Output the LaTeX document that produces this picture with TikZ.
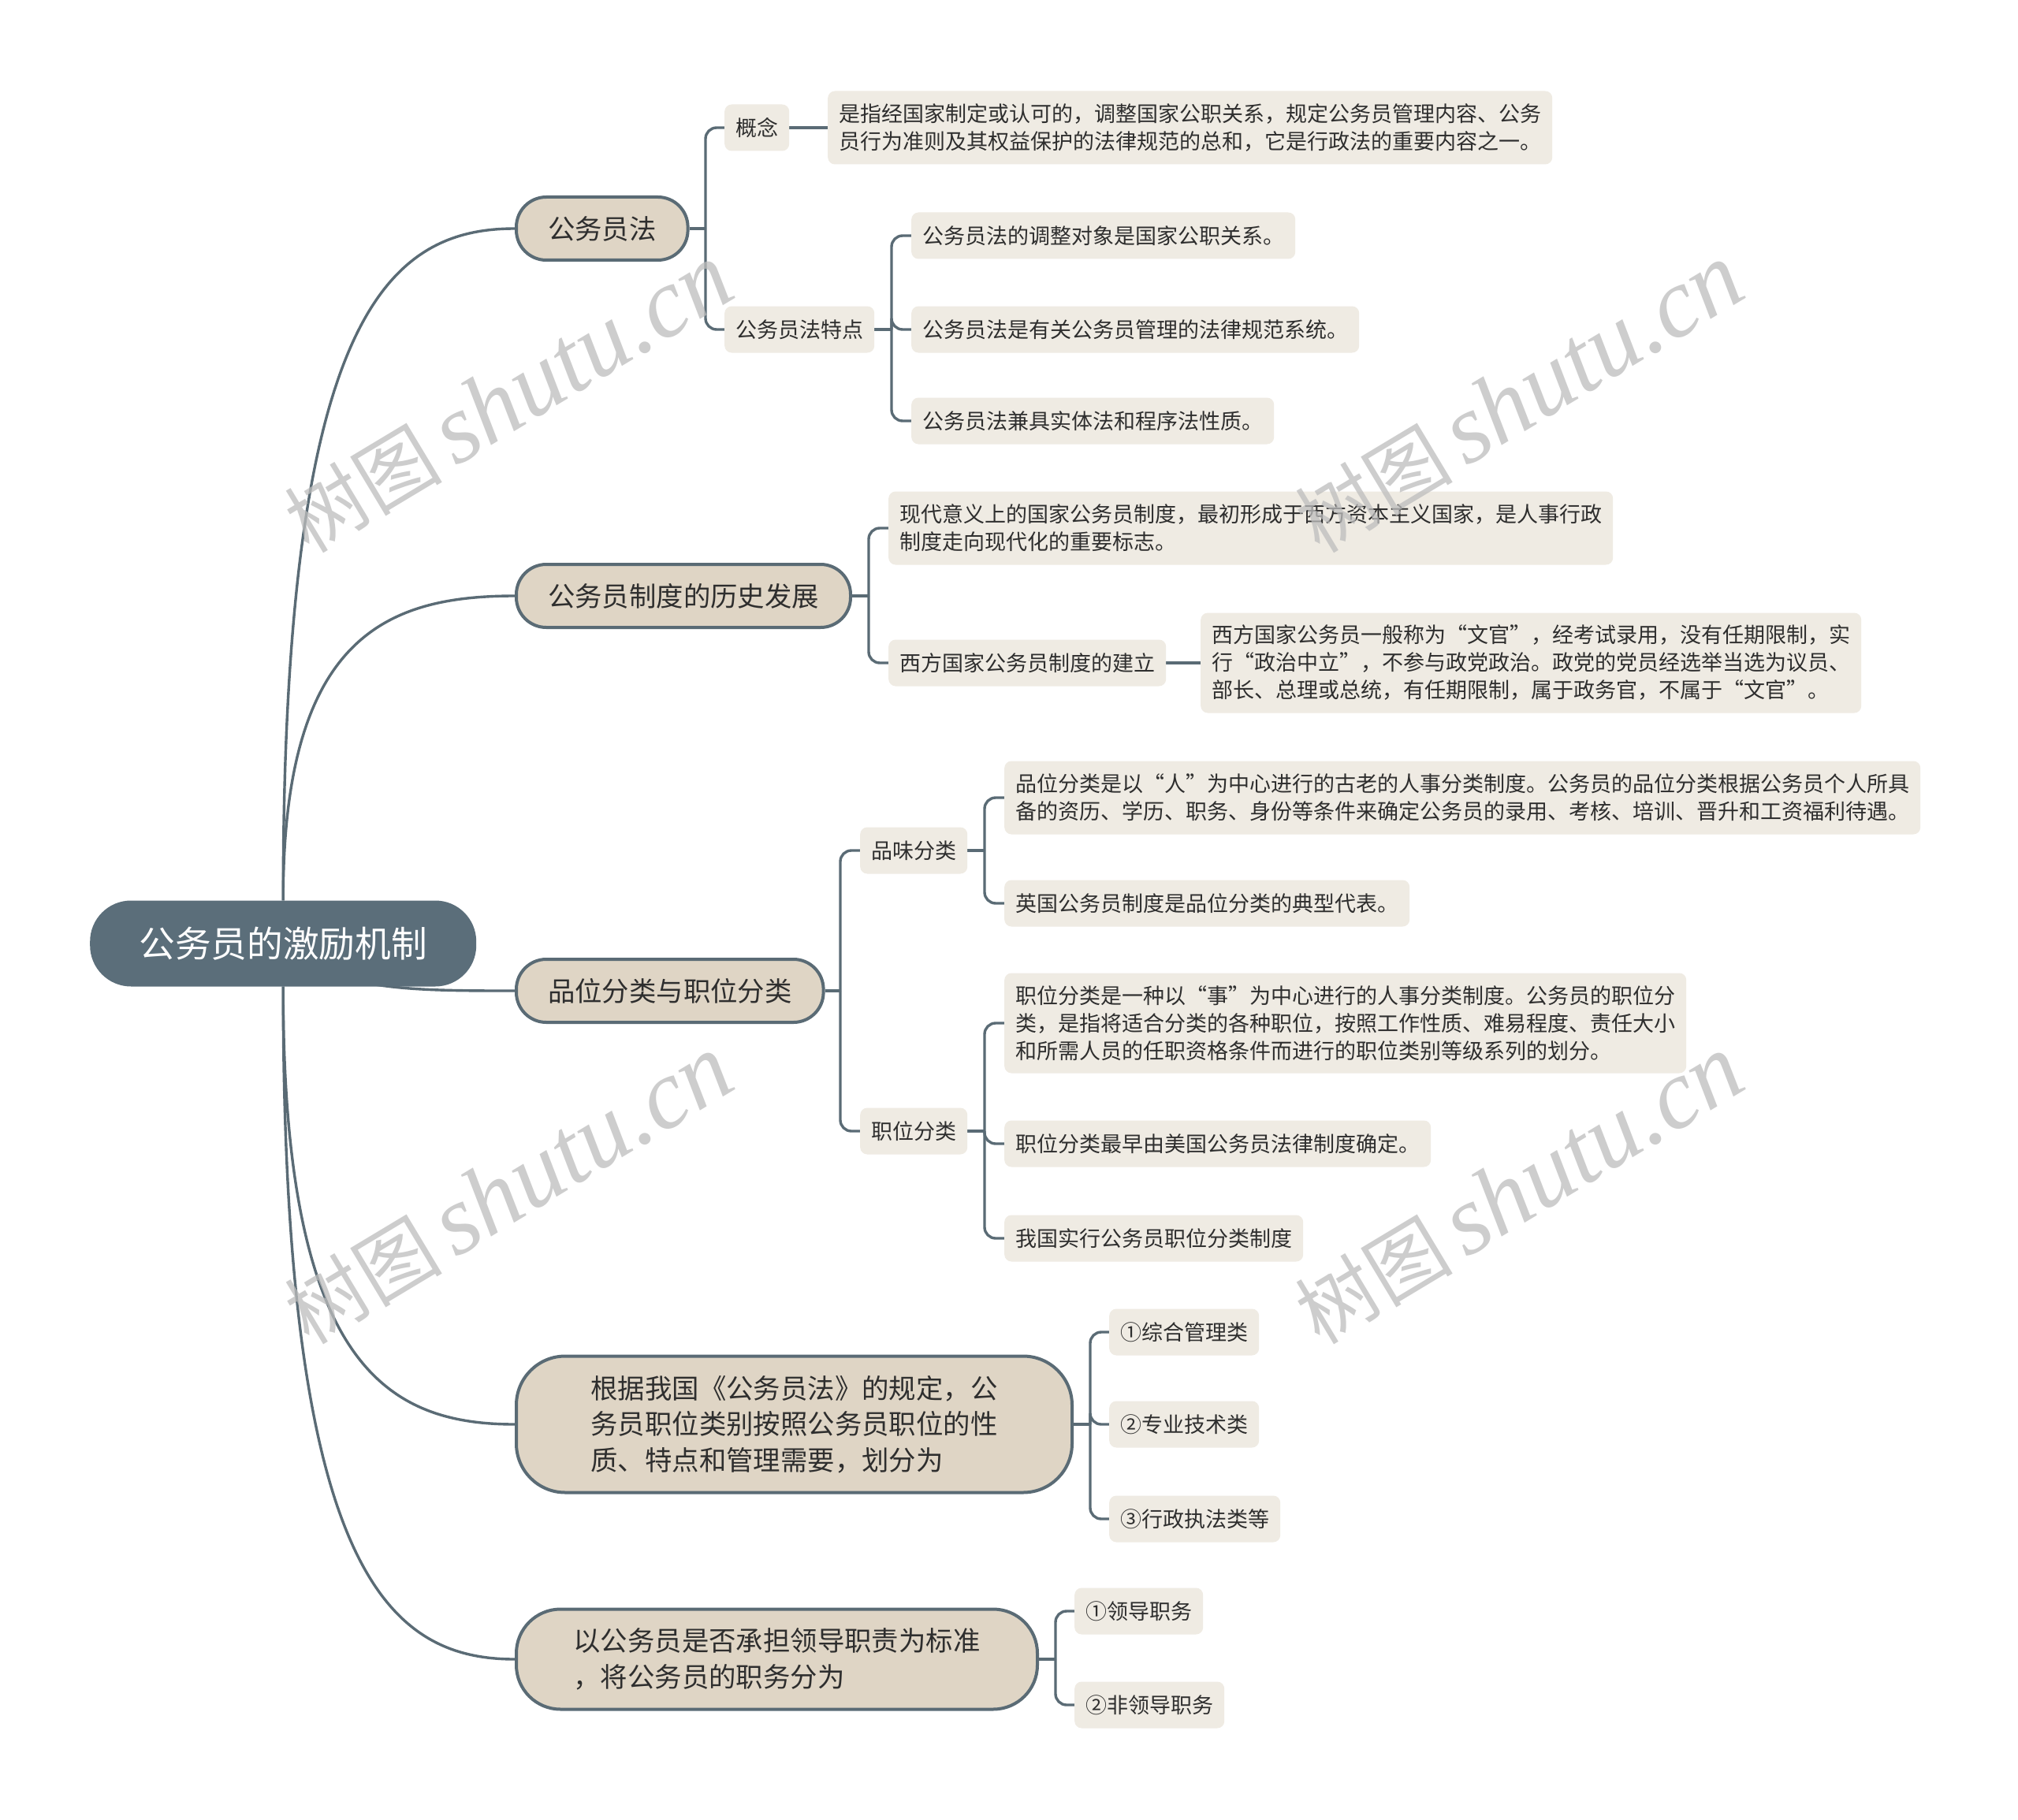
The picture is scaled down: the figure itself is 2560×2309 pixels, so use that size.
\documentclass[tikz,border=0pt]{standalone}
\usepackage{fontspec}
\setmainfont{Noto Sans CJK SC}
\newfontfamily\wmserif{Liberation Serif}
\usetikzlibrary{calc,backgrounds}
\definecolor{lineC}{HTML}{5A6B75}
\definecolor{rootC}{HTML}{5B6E7A}
\definecolor{mainC}{HTML}{DFD5C5}
\definecolor{leafC}{HTML}{EFEBE3}
\definecolor{txtC}{HTML}{2E2E2E}
\definecolor{wmC}{HTML}{BDBDBD}
\begin{document}
\begin{tikzpicture}[x=1pt,y=-1pt,
  conn/.style={draw=lineC,line width=3.4pt},
  bendconn/.style={conn,rounded corners=14pt},
  rootbox/.style={fill=rootC,rounded corners=52pt,minimum width=490pt,minimum height=109pt,text=white,font=\fontsize{45.7}{55}\selectfont,anchor=west,inner sep=0pt},
  mainbox/.style={fill=mainC,draw=lineC,line width=4pt,rounded corners=38pt,minimum height=80pt,inner xsep=40pt,inner ysep=0pt,text=txtC,font=\fontsize{34.4}{45.7}\selectfont,anchor=west,align=left},
  leaf/.style={fill=leafC,rounded corners=9pt,minimum height=59pt,inner xsep=14pt,inner ysep=0pt,text=txtC,font=\fontsize{27}{35}\selectfont,anchor=west,align=left},
  leaftwo/.style={leaf,minimum height=93pt},
  leafthree/.style={leaf,minimum height=127pt},
  wm/.style={text=wmC,opacity=0.75,rotate=31,anchor=center,inner sep=0pt}
]
\begin{pgfonlayer}{background}
\fill[white] (0,0) rectangle (2560,2309);
\end{pgfonlayer}
\useasboundingbox (0,0) rectangle (2560,2309);

% root
\node[rootbox] (root) at (114,1197) {公务员的激励机制};

% level 1
\node[mainbox] (law) at (653,290) {公务员法};
\node[mainbox] (hist) at (653,756) {公务员制度的历史发展};
\node[mainbox] (cls) at (653,1257) {品位分类与职位分类};
\node[mainbox,minimum width=705pt,minimum height=173pt,rounded corners=62pt] (div) at (653,1807) {根据我国《公务员法》的规定，公\\务员职位类别按照公务员职位的性\\质、特点和管理需要，划分为};
\node[mainbox,minimum width=661pt,minimum height=127pt,rounded corners=56pt] (lead) at (653,2105) {以公务员是否承担领导职责为标准\\，将公务员的职务分为};

% 公务员法
\node[leaf] (gn) at (919,162) {概念};
\node[leaftwo] (gnt) at (1050,162) {是指经国家制定或认可的，调整国家公职关系，规定公务员管理内容、公务\\员行为准则及其权益保护的法律规范的总和，它是行政法的重要内容之一。};
\node[leaf] (td) at (919,418) {公务员法特点};
\node[leaf] (td1) at (1156,299) {公务员法的调整对象是国家公职关系。};
\node[leaf] (td2) at (1156,418) {公务员法是有关公务员管理的法律规范系统。};
\node[leaf] (td3) at (1156,534) {公务员法兼具实体法和程序法性质。};

% 历史发展
\node[leaftwo] (h1) at (1127,670) {现代意义上的国家公务员制度，最初形成于西方资本主义国家，是人事行政\\制度走向现代化的重要标志。};
\node[leaf] (h2) at (1127,841) {西方国家公务员制度的建立};
\node[leafthree] (h2t) at (1523,841) {西方国家公务员一般称为“文官”，经考试录用，没有任期限制，实\\行“政治中立”，不参与政党政治。政党的党员经选举当选为议员、\\部长、总理或总统，有任期限制，属于政务官，不属于“文官”。};

% 品位分类与职位分类
\node[leaf] (pw) at (1091,1079) {品味分类};
\node[leaftwo] (pw1) at (1274,1012) {品位分类是以“人”为中心进行的古老的人事分类制度。公务员的品位分类根据公务员个人所具\\备的资历、学历、职务、身份等条件来确定公务员的录用、考核、培训、晋升和工资福利待遇。};
\node[leaf] (pw2) at (1274,1146) {英国公务员制度是品位分类的典型代表。};
\node[leaf] (zw) at (1091,1435) {职位分类};
\node[leafthree] (zw1) at (1274,1298) {职位分类是一种以“事”为中心进行的人事分类制度。公务员的职位分\\类，是指将适合分类的各种职位，按照工作性质、难易程度、责任大小\\和所需人员的任职资格条件而进行的职位类别等级系列的划分。};
\node[leaf] (zw2) at (1274,1451) {职位分类最早由美国公务员法律制度确定。};
\node[leaf] (zw3) at (1274,1571) {我国实行公务员职位分类制度};

% 职位类别
\node[leaf] (d1) at (1407,1690) {①综合管理类};
\node[leaf] (d2) at (1407,1807) {②专业技术类};
\node[leaf] (d3) at (1407,1927) {③行政执法类等};

% 职务
\node[leaf] (l1) at (1363,2044) {①领导职务};
\node[leaf] (l2) at (1363,2163) {②非领导职务};

% branch points
\coordinate (lawb) at ($(gn.west)+(-24,0)$);
\coordinate (tdb) at ($(td1.west)+(-25,0)$);
\coordinate (histb) at ($(h1.west)+(-25,0)$);
\coordinate (clsb) at ($(pw.west)+(-25,0)$);
\coordinate (pwb) at ($(pw1.west)+(-25,0)$);
\coordinate (zwb) at ($(zw1.west)+(-25,0)$);
\coordinate (divb) at ($(d1.west)+(-24,0)$);
\coordinate (leadb) at ($(l1.west)+(-24,0)$);

\begin{pgfonlayer}{background}
% root to level 1
\draw[conn] (root.north) .. controls (359,408) and (489,290) .. (law.west);
\draw[conn] (root.north) .. controls (359,809) and (489,756) .. (hist.west);
\draw[conn] (root.center) .. controls (420,1257) and (520,1257) .. (cls.west);
\draw[conn] (root.south) .. controls (359,1730) and (489,1807) .. (div.west);
\draw[conn] (root.south) .. controls (359,1987) and (489,2105) .. (lead.west);

% 公务员法
\draw[conn] (law.east) -- (lawb |- law.east);
\draw[bendconn] (lawb |- law.east) |- (gn.west);
\draw[bendconn] (lawb |- law.east) |- (td.west);
\draw[conn] (gn.east) -- (gnt.west);
\draw[conn] (td.east) -- (tdb |- td.east);
\draw[bendconn] (tdb |- td.east) |- (td1.west);
\draw[bendconn] (tdb |- td.east) |- (td2.west);
\draw[bendconn] (tdb |- td.east) |- (td3.west);

% 历史发展
\draw[conn] (hist.east) -- (histb |- hist.east);
\draw[bendconn] (histb |- hist.east) |- (h1.west);
\draw[bendconn] (histb |- hist.east) |- (h2.west);
\draw[conn] (h2.east) -- (h2t.west);

% 分类
\draw[conn] (cls.east) -- (clsb |- cls.east);
\draw[bendconn] (clsb |- cls.east) |- (pw.west);
\draw[bendconn] (clsb |- cls.east) |- (zw.west);
\draw[conn] (pw.east) -- (pwb |- pw.east);
\draw[bendconn] (pwb |- pw.east) |- (pw1.west);
\draw[bendconn] (pwb |- pw.east) |- (pw2.west);
\draw[conn] (zw.east) -- (zwb |- zw.east);
\draw[bendconn] (zwb |- zw.east) |- (zw1.west);
\draw[bendconn] (zwb |- zw.east) |- (zw2.west);
\draw[bendconn] (zwb |- zw.east) |- (zw3.west);

% 职位类别
\draw[conn] (div.east) -- (divb |- div.east);
\draw[bendconn] (divb |- div.east) |- (d1.west);
\draw[bendconn] (divb |- div.east) |- (d2.west);
\draw[bendconn] (divb |- div.east) |- (d3.west);

% 职务
\draw[conn] (lead.east) -- (leadb |- lead.east);
\draw[bendconn] (leadb |- lead.east) |- (l1.west);
\draw[bendconn] (leadb |- lead.east) |- (l2.west);
\end{pgfonlayer}

% watermarks
\node[wm] (wm1) at (645,506) {\fontsize{100}{110}\selectfont 树图\,{\wmserif\itshape\fontsize{125}{130}\selectfont shutu.cn}};
\node[wm] (wm2) at (1927,506) {\fontsize{100}{110}\selectfont 树图\,{\wmserif\itshape\fontsize{125}{130}\selectfont shutu.cn}};
\node[wm] (wm3) at (645,1510) {\fontsize{100}{110}\selectfont 树图\,{\wmserif\itshape\fontsize{125}{130}\selectfont shutu.cn}};
\node[wm] (wm4) at (1927,1510) {\fontsize{100}{110}\selectfont 树图\,{\wmserif\itshape\fontsize{125}{130}\selectfont shutu.cn}};
\end{tikzpicture}
\end{document}
